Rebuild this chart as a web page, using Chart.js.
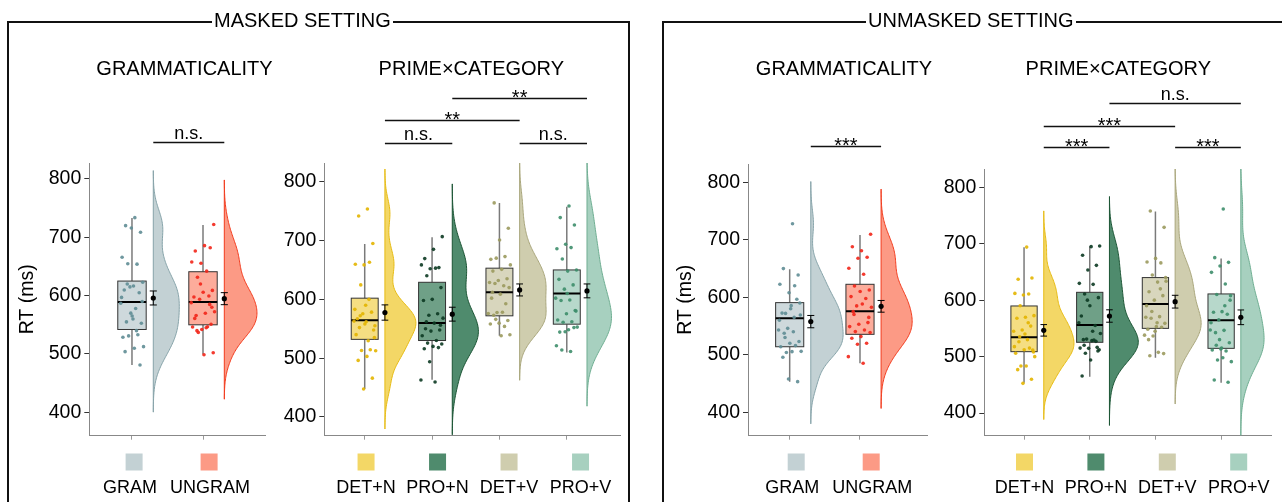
<!DOCTYPE html>
<html>
<head>
<meta charset="utf-8">
<script src="https://cdn.jsdelivr.net/npm/chart.js@4.4.0/dist/chart.umd.min.js"></script>
<style>
  body { margin: 0; background: #fff; font-family: "Liberation Sans", Arial, sans-serif; }
  #page { position: relative; width: 1282px; height: 502px; overflow: hidden; }
  .plot { position: absolute; top: 0; height: 502px; }
  .frame { position: absolute; border: 2px solid #111; border-bottom: none; height: 520px; z-index: 2; pointer-events: none; }
  .frame-label { position: absolute; top: 10px; font-size: 20px; line-height: 20px; background: #fff; padding: 0 2px; z-index: 3; white-space: nowrap; color: #000; }
</style>
</head>
<body>
<div id="page">
  <div class="frame" style="left:7px; top:21px; width:619px;"></div>
  <div class="frame-label" style="left:212px;">MASKED SETTING</div>
  <div class="frame" style="left:662px; top:21px; width:700px;"></div>
  <div class="frame-label" style="left:866px;">UNMASKED SETTING</div>

  <div class="plot" style="left:14px; width:270px;"><canvas id="c1"></canvas></div>
  <div class="plot" style="left:284px; width:346px;"><canvas id="c2"></canvas></div>
  <div class="plot" style="left:672px; width:266px;"><canvas id="c3"></canvas></div>
  <div class="plot" style="left:938px; width:344px;"><canvas id="c4"></canvas></div>
</div>
<script>
const gramCats = ['GRAM', 'UNGRAM'];
const pcCats = ['DET+N', 'PRO+N', 'DET+V', 'PRO+V'];
const yTicks = [400, 500, 600, 700, 800];

// participant mean RTs (ms)
const maskedGram = [733.7, 720, 708.6, 716, 665.7, 654, 654.8, 623, 616.6, 609.7, 605, 615, 586.9, 578, 555, 552.6, 565, 528.6, 533, 531, 512.6, 509.7, 504, 481, 570, 597, 540, 620, 590, 560];
const maskedUngram = [722, 685.7, 676.6, 682, 655.5, 657.7, 642, 631.5, 609, 605.7, 597.7, 599.4, 593.7, 572.5, 569.7, 566, 551, 542, 546.3, 546.8, 537, 502, 498.8, 561, 585, 620, 588, 545, 540, 580];
const maskedDetN = [753.6, 741.7, 695, 658.6, 659.7, 663, 624.6, 555, 562, 567, 578.2, 575.4, 563, 529.6, 552, 548, 558, 540, 514.3, 513, 512.6, 503, 496.2, 466, 447.5, 583, 600, 572, 535, 590];
const maskedProN = [706.6, 685, 669.3, 654, 652, 658.6, 653, 640, 620, 600, 598, 575.4, 573, 568, 559.5, 550, 548, 546, 538, 530, 525.6, 524, 520, 516, 518, 494, 463, 459.4, 562, 556];
const maskedDetV = [764, 720.8, 701, 668, 672.7, 670, 658.6, 651, 648, 635, 632, 628.6, 623, 627, 620, 608.8, 602, 592.4, 577.6, 576, 578, 573, 564, 559.5, 558, 554, 566, 539.7, 538, 612];
const maskedProV = [758.7, 739, 726.4, 693.6, 686, 688, 668.7, 650, 648, 634, 624.6, 617.3, 602, 599, 598, 581, 575.4, 565, 562, 561, 552.8, 548.2, 544.3, 552, 545, 521, 511.4, 514, 580, 610];

const unmaskedGram = [728, 649.9, 638.8, 608, 622.6, 620, 572, 569.3, 585.5, 572.5, 596.5, 546, 543, 540, 537.4, 523, 520, 514, 516, 504, 506, 505.5, 495.7, 453.3, 458, 560, 565, 530, 590, 580];
const unmaskedUngram = [709.6, 681, 688, 669.6, 667.8, 650.4, 640, 619.7, 612.8, 610, 601.2, 598, 585, 582.6, 588.4, 575, 556, 553, 549, 543.2, 540.3, 538.6, 531.6, 528.7, 520, 518.3, 496.8, 485.2, 570, 565];
const unmaskedDetN = [694, 637, 639.3, 609, 612, 610.9, 590, 572.5, 569.6, 567.8, 554, 547, 545, 530, 526.4, 511.7, 512, 505.8, 515, 483.3, 499.9, 483.3, 476.8, 459.7, 452.6, 517.6, 560, 535, 508, 540];
const unmaskedProN = [696, 694.8, 679.5, 661.7, 653.5, 629.8, 628, 610.9, 604.4, 590.2, 571.9, 555, 531, 541, 528.2, 530, 516.4, 514.6, 515, 529.4, 505.8, 512, 494, 465.6, 527, 600, 560, 545, 520, 510];
const unmaskedDetV = [758, 729, 674, 667.6, 666, 644.6, 633.4, 632, 615, 608, 600, 569.6, 570.8, 568, 558.9, 553, 548.3, 552, 536.5, 538, 507.5, 501.6, 505.3, 545, 590, 620, 580, 640, 560, 530];
const unmaskedProV = [761.6, 675.3, 667, 660.6, 649.3, 628.6, 610, 608, 579.6, 578.5, 575, 565, 547, 546.5, 542.4, 524.6, 513.4, 511.7, 510, 494, 491, 498, 458.5, 454.4, 530, 560, 590, 520, 600, 515];

// boxes: [lower whisker, Q1, median, Q3, upper whisker]
const maskedGramBox = [[481, 542, 589, 625, 733], [499.5, 550, 589, 641, 721]];
const maskedPcBox = [[447.5, 532, 564.6, 602, 694], [463.4, 530, 559.6, 629, 705.5], [538, 572, 612, 653, 764], [509.8, 557.8, 610, 650, 757.6]];
const unmaskedGramBox = [[453.3, 514, 563.5, 590.7, 648.7], [485.2, 535.6, 575.6, 622.6, 708.4]];
const unmaskedPcBox = [[453.8, 508.7, 534.1, 589.7, 693.6], [464.4, 525.3, 556, 613.9, 695.4], [498, 550, 593.2, 640, 757], [453.8, 514.6, 564.3, 611, 674]];

// condition means and standard errors
const maskedGramMean = [596, 594.8];
const maskedGramSe = [12, 10.3];
const maskedPcMean = [577.6, 574.8, 616, 614.4];
const maskedPcSe = [13, 11.8, 10.2, 11.8];
const unmaskedGramMean = [557.7, 584.3];
const unmaskedGramSe = [10.7, 10.2];
const unmaskedPcMean = [546.5, 571.9, 597.3, 569.6];
const unmaskedPcSe = [10.2, 11, 11.3, 13];

// pairwise comparisons
const gramPairs = [[1, 2]];
const pcPairs = [[1, 2], [3, 4], [1, 3], [2, 4]];
const maskedGramSig = ['n.s.'];
const maskedPcSig = ['n.s.', 'n.s.', '**', '**'];
const unmaskedGramSig = ['***'];
const unmaskedPcSig = ['***', '***', '***', 'n.s.'];

const FONT = '"Liberation Sans", Arial, sans-serif';
Chart.defaults.font.family = FONT;

const gramFill = ['#c3d1d4', '#fc9a85'];
const gramLine = ['#86a3a9', '#f23b1d'];
const gramPoint = ['#5f8d95', '#f2261a'];
const pcFill = ['#f3d766', '#4f8b6d', '#cfcdae', '#a7d0bf'];
const pcLine = ['#e6bb14', '#1c5535', '#a9a67c', '#6fae92'];
const pcPoint = ['#e3b500', '#0c3a22', '#9b9a5e', '#3e8e6c'];

function quantile(s, p) {
    const i = (s.length - 1) * p, lo = Math.floor(i);
    return s[lo] + (s[Math.ceil(i)] - s[lo]) * (i - lo);
}

// gaussian kernel density, nrd0 bandwidth, tails cut at 3 bw
function density(vals) {
    const s = [...vals].sort((a, b) => a - b), n = s.length;
    const mean = s.reduce((a, b) => a + b, 0) / n;
    const sd = Math.sqrt(s.reduce((a, v) => a + (v - mean) ** 2, 0) / (n - 1));
    const iqr = quantile(s, 0.75) - quantile(s, 0.25);
    const h = 0.9 * Math.min(sd, iqr / 1.34) * Math.pow(n, -0.2);
    const lo = s[0] - 3 * h, hi = s[n - 1] + 3 * h, out = [];
    for (let k = 0; k <= 160; k++) {
        const v = lo + (hi - lo) * k / 160;
        let d = 0;
        s.forEach(x => { const z = (v - x) / h; d += Math.exp(-0.5 * z * z); });
        out.push([v, d / (n * h * Math.sqrt(2 * Math.PI))]);
    }
    return out;
}

const jitter = k => (((k + 1) * 0.6180339887) % 1 - 0.5) * 0.34;

function rgba(hex, a) {
    const n = parseInt(hex.slice(1), 16);
    return `rgba(${n >> 16},${(n >> 8) & 255},${n & 255},${a})`;
}

function makeChart(id, o) {
    const dens = o.groups.map(density);
    const peak = Math.max(...dens.flat().map(p => p[1]));

    const cloud = {
        id: 'cloud',
        beforeDatasetsDraw(chart) {
            const {ctx, chartArea: a, scales: {x, y}} = chart;
            ctx.save();
            ctx.beginPath();
            ctx.rect(a.left, a.top, a.right - a.left, a.bottom - a.top);
            ctx.clip();
            // half violins
            dens.forEach((d, i) => {
                const b = i + 1.3;
                ctx.beginPath();
                ctx.moveTo(x.getPixelForValue(b), y.getPixelForValue(d[0][0]));
                d.forEach(([v, w]) => ctx.lineTo(x.getPixelForValue(b + w / peak * 0.46), y.getPixelForValue(v)));
                ctx.lineTo(x.getPixelForValue(b), y.getPixelForValue(d[d.length - 1][0]));
                ctx.closePath();
                ctx.fillStyle = o.fill[i];
                ctx.fill();
                ctx.strokeStyle = o.line[i];
                ctx.lineWidth = 1;
                ctx.stroke();
            });
            // boxes
            o.box.forEach((bx, i) => {
                const [wl, q1, md, q3, wh] = bx.map(v => y.getPixelForValue(v));
                const cx = x.getPixelForValue(i + 1);
                const l = x.getPixelForValue(i + 0.8), r = x.getPixelForValue(i + 1.2);
                ctx.strokeStyle = '#7a7a7a';
                ctx.lineWidth = 1.5;
                ctx.beginPath();
                ctx.moveTo(cx, wl); ctx.lineTo(cx, q1);
                ctx.moveTo(cx, q3); ctx.lineTo(cx, wh);
                ctx.stroke();
                ctx.fillStyle = rgba(o.fill[i], 0.82);
                ctx.fillRect(l, q3, r - l, q1 - q3);
                ctx.strokeStyle = '#333';
                ctx.lineWidth = 1;
                ctx.strokeRect(l, q3, r - l, q1 - q3);
                ctx.strokeStyle = '#000';
                ctx.lineWidth = 2;
                ctx.beginPath();
                ctx.moveTo(l, md); ctx.lineTo(r, md);
                ctx.stroke();
            });
            ctx.restore();
        },
        afterDatasetsDraw(chart) {
            const {ctx, scales: {x, y}} = chart;
            ctx.save();
            ctx.strokeStyle = '#000';
            ctx.lineWidth = 1;
            o.means.forEach((m, i) => {
                const cx = x.getPixelForValue(i + 1.3);
                const hw = x.getPixelForValue(i + 1.35) - cx;
                const t = y.getPixelForValue(m + o.se[i]), b = y.getPixelForValue(m - o.se[i]);
                ctx.beginPath();
                ctx.moveTo(cx, t); ctx.lineTo(cx, b);
                ctx.moveTo(cx - hw, t); ctx.lineTo(cx + hw, t);
                ctx.moveTo(cx - hw, b); ctx.lineTo(cx + hw, b);
                ctx.stroke();
            });
            ctx.restore();
        },
        afterDraw(chart) {
            const {ctx, scales: {x, y}} = chart;
            ctx.save();
            ctx.fillStyle = '#000';
            // panel title
            ctx.font = '20px ' + FONT;
            ctx.textAlign = 'center';
            ctx.textBaseline = 'alphabetic';
            ctx.fillText(o.title, o.titleX, 75);
            // significance brackets
            ctx.strokeStyle = '#111';
            ctx.lineWidth = 1.3;
            o.pairs.forEach(([p, q], k) => {
                const x1 = x.getPixelForValue(p + 0.3), x2 = x.getPixelForValue(q + 0.3);
                const ly = Math.round(y.getPixelForValue(o.sigY[k])) + 0.5;
                ctx.beginPath();
                ctx.moveTo(x1, ly); ctx.lineTo(x2, ly);
                ctx.stroke();
                const star = o.sig[k].startsWith('*');
                ctx.font = (star ? '20px ' : '18px ') + FONT;
                ctx.fillText(o.sig[k], (x1 + x2) / 2, star ? ly + 5.5 : ly - 3.5);
            });
            // legend: keys above labels
            o.cats.forEach((c, i) => {
                const cx = o.legendX + (i - (o.cats.length - 1) / 2) * o.legendGap;
                ctx.fillStyle = o.fill[i];
                ctx.fillRect(cx - 8.5, 453.5, 17, 17);
                ctx.fillStyle = '#000';
                ctx.font = '18px ' + FONT;
                ctx.fillText(c, cx + o.labelShift[i], 493.3);
            });
            ctx.restore();
        }
    };

    const datasets = o.groups.map((vals, i) => ({
        data: vals.map((v, k) => ({x: i + 1 + jitter(k + i * 7), y: v})),
        pointRadius: 1.8,
        pointBackgroundColor: rgba(o.point[i], 0.9),
        pointBorderWidth: 0
    }));
    datasets.push({
        data: o.means.map((m, i) => ({x: i + 1.3, y: m})),
        pointRadius: 2.6,
        pointBackgroundColor: '#000',
        pointBorderWidth: 0
    });

    return new Chart(document.getElementById(id), {
        type: 'scatter',
        data: {datasets},
        options: {
            responsive: true,
            maintainAspectRatio: false,
            animation: false,
            events: [],
            layout: {padding: {top: o.top, right: o.right, left: 0, bottom: 0}},
            scales: {
                x: {
                    type: 'linear',
                    min: o.xMin,
                    max: o.xMax,
                    afterBuildTicks: s => { s.ticks = o.cats.map((c, i) => ({value: i + 1})); },
                    afterFit: s => { s.height = 66.3; },
                    ticks: {display: false},
                    grid: {drawOnChartArea: false, drawTicks: true, tickLength: 4, color: '#999'},
                    border: {color: '#888', width: 1}
                },
                y: {
                    min: o.yMin,
                    max: o.yMax,
                    afterBuildTicks: s => { s.ticks = yTicks.map(v => ({value: v})); },
                    afterFit: s => { s.width = o.yWidth; },
                    ticks: {color: '#000', padding: 3, font: {size: 19.5}},
                    grid: {drawOnChartArea: false, drawTicks: true, tickLength: 5, color: '#333'},
                    border: {color: '#888', width: 1},
                    title: {display: o.yTitle, text: 'RT (ms)', color: '#000', font: {size: 19.5}, padding: {top: 2, bottom: 0}}
                }
            },
            plugins: {
                legend: {display: false},
                tooltip: {enabled: false}
            }
        },
        plugins: [cloud]
    });
}

makeChart('c1', {
    cats: gramCats, groups: [maskedGram, maskedUngram], box: maskedGramBox,
    means: maskedGramMean, se: maskedGramSe, pairs: gramPairs, sig: maskedGramSig, sigY: [864],
    fill: gramFill, line: gramLine, point: gramPoint,
    title: 'GRAMMATICALITY', titleX: 170.5, legendX: 157.6, legendGap: 75, labelShift: [-4, 1],
    top: 163, right: 19, yWidth: 75.3, yTitle: true,
    xMin: 0.399, xMax: 2.873, yMin: 359.9, yMax: 827.4
});
makeChart('c2', {
    cats: pcCats, groups: [maskedDetN, maskedProN, maskedDetV, maskedProV], box: maskedPcBox,
    means: maskedPcMean, se: maskedPcSe, pairs: pcPairs, sig: maskedPcSig, sigY: [865.3, 866.3, 904.9, 942.8],
    fill: pcFill, line: pcLine, point: pcPoint,
    title: 'PRIME\u00d7CATEGORY', titleX: 187.3, legendX: 189.3, legendGap: 71.5, labelShift: [0, 0, 0, 0],
    top: 163, right: 10, yWidth: 40.3, yTitle: false,
    xMin: 0.4, xMax: 4.79, yMin: 368.2, yMax: 831.8
});
makeChart('c3', {
    cats: gramCats, groups: [unmaskedGram, unmaskedUngram], box: unmaskedGramBox,
    means: unmaskedGramMean, se: unmaskedGramSe, pairs: gramPairs, sig: unmaskedGramSig, sigY: [863],
    fill: gramFill, line: gramLine, point: gramPoint,
    title: 'GRAMMATICALITY', titleX: 172, legendX: 161.7, legendGap: 75, labelShift: [-4, 1],
    top: 164, right: 10.3, yWidth: 76, yTitle: true,
    xMin: 0.407, xMax: 2.963, yMin: 359.3, yMax: 831.8
});
makeChart('c4', {
    cats: pcCats, groups: [unmaskedDetN, unmaskedProN, unmaskedDetV, unmaskedProV], box: unmaskedPcBox,
    means: unmaskedPcMean, se: unmaskedPcSe, pairs: pcPairs, sig: unmaskedPcSig, sigY: [872, 870.9, 908.6, 948.9],
    fill: pcFill, line: pcLine, point: pcPoint,
    title: 'PRIME\u00d7CATEGORY', titleX: 180.3, legendX: 193.6, legendGap: 71.4, labelShift: [0, 0, 0, 0],
    top: 169, right: 10.3, yWidth: 46.3, yTitle: false,
    xMin: 0.395, xMax: 4.77, yMin: 359.8, yMax: 832.4
});
</script>
</body>
</html>
